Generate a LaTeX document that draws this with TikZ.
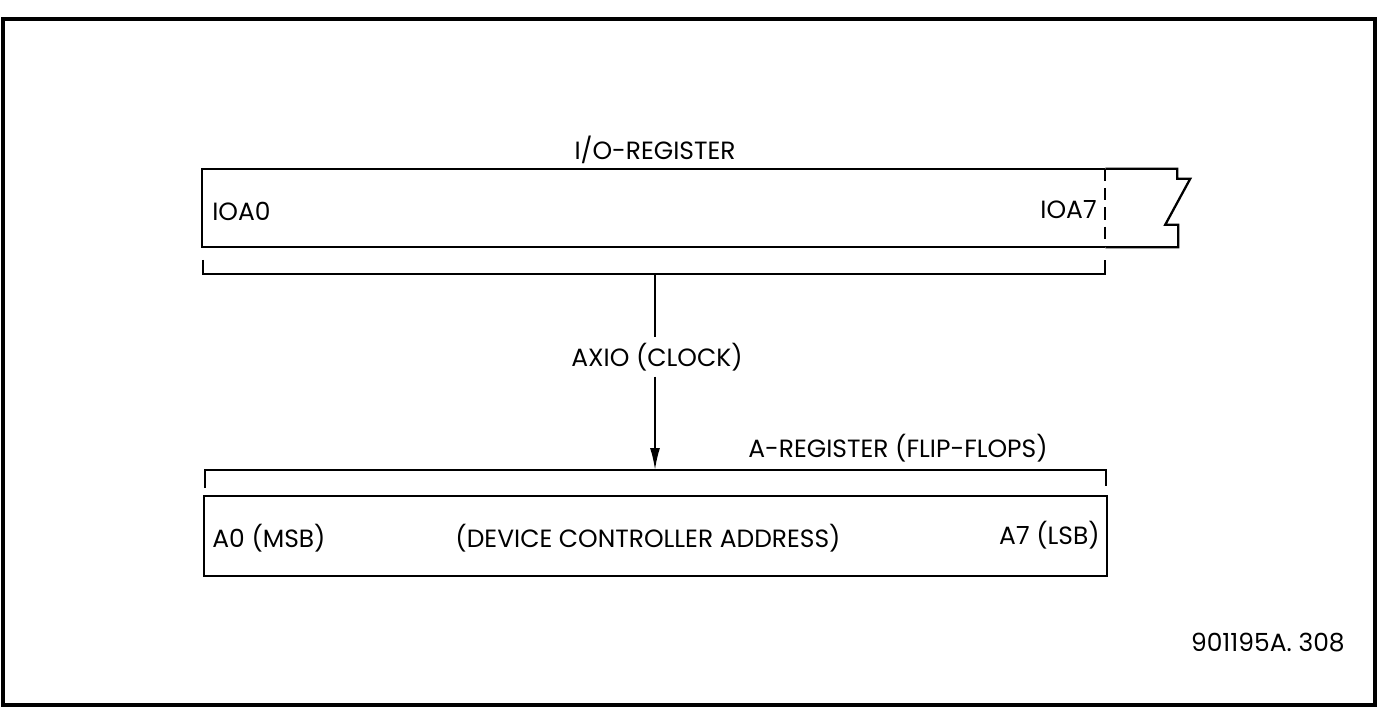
\documentclass[tikz,border=0pt]{standalone}
\usepackage{fontspec}
\setmainfont{Poppins}
\usetikzlibrary{arrows.meta,positioning}

\begin{document}
\begin{tikzpicture}[
    x=0.02cm, y=-0.02cm,
    regarea/.style={rectangle, minimum width=18.06cm, minimum height=1.56cm,
                    inner sep=0pt},
    lbl/.style={font=\fontsize{14.2}{16}\selectfont, inner sep=0pt},
    wire/.style={line width=1.3pt},
    sig/.style={-{Latex[length=0.44cm,width=0.2cm]}, line width=1.1pt}
]
% page frame
\useasboundingbox (0,0) rectangle (1378,709);
\draw[line width=1.8pt] (3,19) rectangle (1375,705);

% I/O register
\node[regarea] (ioreg) at (653.5,208) {};
\draw[wire] (ioreg.north east) -| (ioreg.south west) -- (ioreg.south east);
\draw[wire, dash pattern=on 7pt off 4pt] (ioreg.north east) -- (ioreg.south east);
\draw[wire] (ioreg.north east) -- ++(72,0) -- ++(0,10) -- ++(13,0)
    -- ++(-25,46) -- ++(13,0) |- (ioreg.south east);
\node[lbl] (iotitle) at (655,150) {I/O-REGISTER};
\node[lbl, anchor=west] (ioa0) at (212,211) {IOA0};
\node[lbl, anchor=east] (ioa7) at (1097,210) {IOA7};

% bracket under I/O register
\coordinate (iobl) at (203,274);
\coordinate (iobr) at (1105,274);
\draw[wire] (iobl) ++(0,-14) -- (iobl) -- (iobr) -- ++(0,-14);
\coordinate (iotap) at (655,274);

% A register
\node[regarea, minimum height=1.6cm] (areg) at (655.5,536) {};
\draw[wire] (areg.north west) rectangle (areg.south east);
\node[lbl, anchor=west] (a0) at (212,538) {A0 (MSB)};
\node[lbl] (devaddr) at (648,538) {(DEVICE CONTROLLER ADDRESS)};
\node[lbl, anchor=east] (a7) at (1100,535) {A7 (LSB)};

% bracket over A register
\coordinate (abl) at (205,470);
\coordinate (abr) at (1106,470);
\draw[wire] (abl) ++(0,18) -- (abl) -- (abr) -- ++(0,16);
\coordinate (atap) at (655,470);
\node[lbl] (atitle) at (898,448) {A-REGISTER (FLIP-FLOPS)};

% clock transfer
\node[lbl, fill=white, inner sep=3pt] (axio) at (657,357) {AXIO (CLOCK)};
\draw[line width=1.1pt] (iotap) -- (iotap |- axio.north);
\draw[sig] (iotap |- axio.south) -- (atap);

\node[lbl, anchor=east] (figno) at (1345,643) {901195A. 308};
\end{tikzpicture}
\end{document}
